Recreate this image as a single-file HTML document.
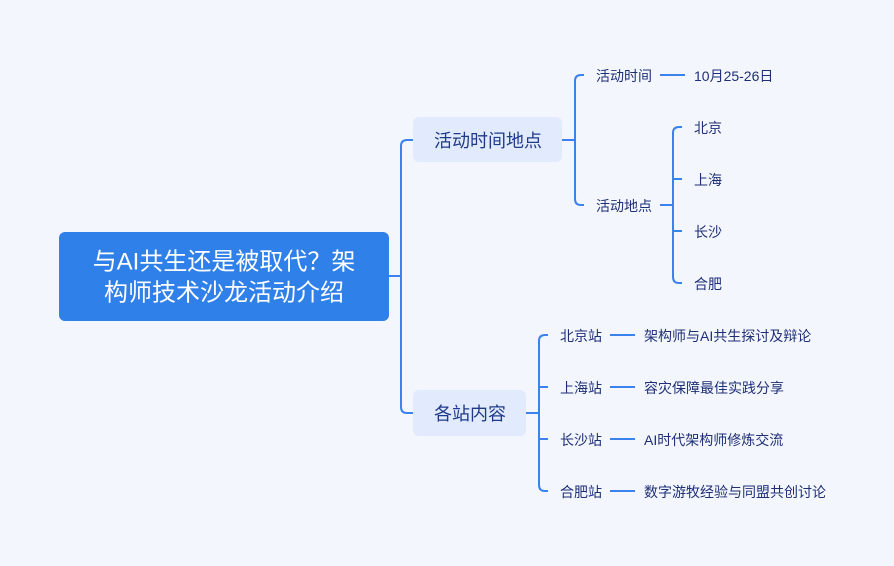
<!DOCTYPE html>
<html><head><meta charset="utf-8"><style>
html,body{margin:0;padding:0;background:#f4f6fd;}
svg{display:block}
text{font-family:"Liberation Sans","Noto Sans CJK SC",sans-serif;fill:#1e2f78;dominant-baseline:central}
</style></head><body>
<svg width="894" height="566" viewBox="0 0 894 566" xmlns="http://www.w3.org/2000/svg">
<rect width="894" height="566" fill="#f4f6fd"/>
<g fill="none" stroke="#3a82ec" stroke-width="2">
<path d="M388 276H401"/>
<path d="M413 140H407Q401 140 401 146V407Q401 413 407 413H413"/>
<path d="M562 140H575"/>
<path d="M584 75H581Q575 75 575 81V199Q575 205 581 205H584"/>
<path d="M660 75H685"/>
<path d="M660 205H673"/>
<path d="M682 127H679Q673 127 673 133V277Q673 283 679 283H682"/>
<path d="M673 179Q673 179 679 179H682M673 231Q673 231 679 231H682"/>
<path d="M526 413H539"/>
<path d="M548 335H545Q539 335 539 341V485Q539 491 545 491H548"/>
<path d="M539 387H548M539 439H548"/>
<path d="M610 335H635M610 387H635M610 439H635M610 491H635"/>
</g>
<rect x="59" y="232" width="330" height="89" rx="6" fill="#3080ea"/>
<text x="224" y="262" text-anchor="middle" font-size="24" style="fill:#fff">与AI共生还是被取代？架</text>
<text x="224" y="293" text-anchor="middle" font-size="24" style="fill:#fff">构师技术沙龙活动介绍</text>
<rect x="413" y="117" width="149" height="45" rx="6" fill="#e2eafd"/>
<text x="488" y="141" text-anchor="middle" font-size="18" style="fill:#1e3a8a">活动时间地点</text>
<rect x="413" y="390" width="113" height="46" rx="6" fill="#e2eafd"/>
<text x="470" y="414" text-anchor="middle" font-size="18" style="fill:#1e3a8a">各站内容</text>
<g font-size="14">
<text x="596" y="76">活动时间</text>
<text x="694" y="76">10月25-26日</text>
<text x="596" y="206">活动地点</text>
<text x="694" y="128">北京</text>
<text x="694" y="180">上海</text>
<text x="694" y="232">长沙</text>
<text x="694" y="284">合肥</text>
<text x="560" y="336">北京站</text>
<text x="560" y="388">上海站</text>
<text x="560" y="440">长沙站</text>
<text x="560" y="492">合肥站</text>
<text x="644" y="336">架构师与AI共生探讨及辩论</text>
<text x="644" y="388">容灾保障最佳实践分享</text>
<text x="644" y="440">AI时代架构师修炼交流</text>
<text x="644" y="492">数字游牧经验与同盟共创讨论</text>
</g>
</svg>
</body></html>
